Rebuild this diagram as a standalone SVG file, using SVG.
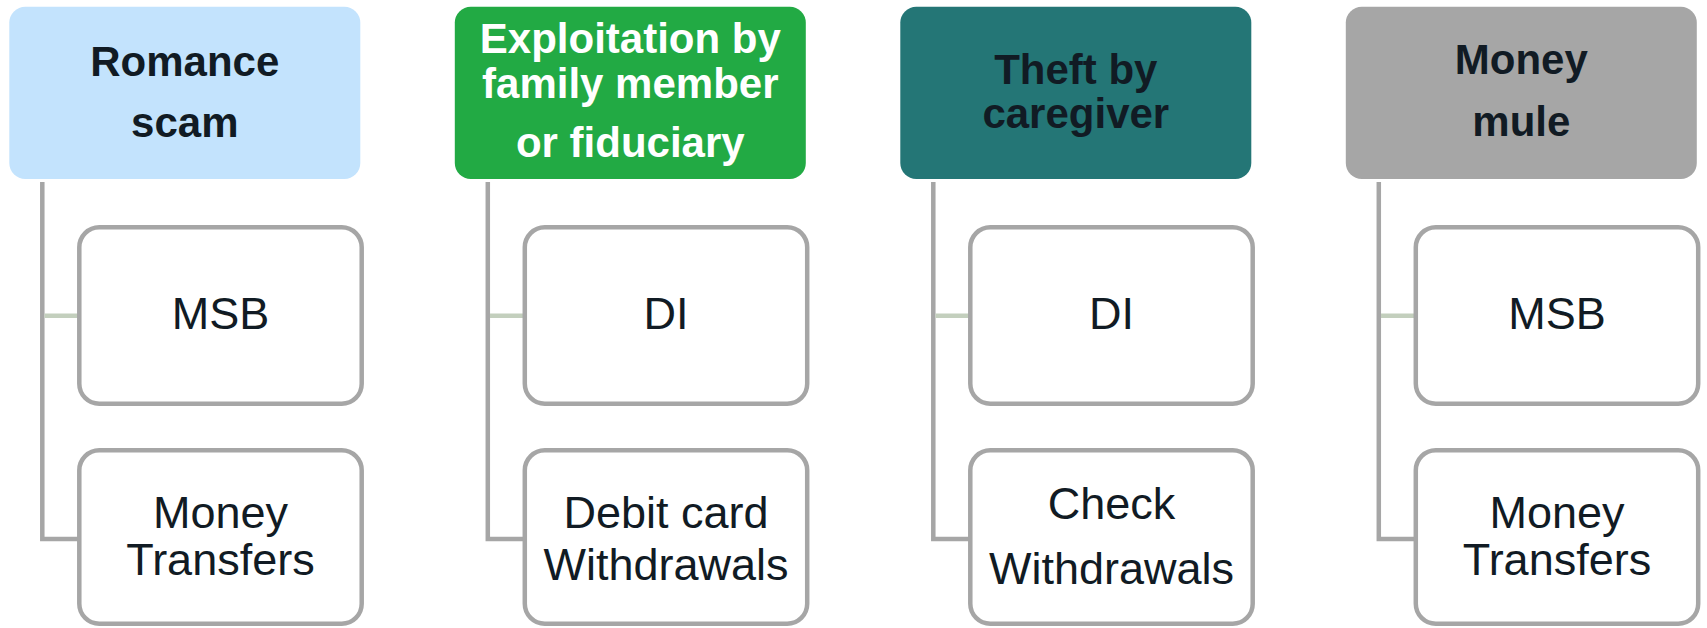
<svg xmlns="http://www.w3.org/2000/svg" width="1707" height="628" viewBox="0 0 1707 628">
<style>
.h{font-family:"Liberation Sans",Arial,sans-serif;font-weight:bold;font-size:42px;text-anchor:middle;fill:#111B24}
.w{fill:#FFFFFF}
.c{font-family:"Liberation Sans",Arial,sans-serif;font-size:45px;text-anchor:middle;fill:#111B24}
.box{fill:#FFFFFF;stroke:#A6A6A6;stroke-width:4.5}
.ln{fill:none;stroke:#A6A6A6;stroke-width:4.5}
.lg{fill:none;stroke:#C3CFBD;stroke-width:4.5}
</style>
<rect width="1707" height="628" fill="#FFFFFF"/>
<g id="connectors">
<path class="ln" d="M42.3,182 V539 H79"/>
<path class="lg" d="M44.5,315.7 H79"/>
<path class="ln" d="M487.8,182 V539 H524.5"/>
<path class="lg" d="M490,315.7 H524.5"/>
<path class="ln" d="M933.3,182 V539 H970"/>
<path class="lg" d="M935.5,315.7 H970"/>
<path class="ln" d="M1378.8,182 V539 H1415.5"/>
<path class="lg" d="M1381,315.7 H1415.5"/>
</g>
<g id="h1"><rect x="9.3" y="6.7" width="351" height="172.3" rx="16" fill="#C3E3FD"/>
<text class="h" x="184.8" y="76">Romance</text><text class="h" x="184.8" y="137">scam</text></g>
<g id="h2"><rect x="454.8" y="6.7" width="351" height="172.3" rx="16" fill="#22AA44"/>
<text class="h w" x="630.3" y="53">Exploitation by</text><text class="h w" x="630.3" y="98">family member</text><text class="h w" x="630.3" y="157">or fiduciary</text></g>
<g id="h3"><rect x="900.3" y="6.7" width="351" height="172.3" rx="16" fill="#247676"/>
<text class="h" x="1075.8" y="84">Theft by</text><text class="h" x="1075.8" y="128">caregiver</text></g>
<g id="h4"><rect x="1345.8" y="6.7" width="351" height="172.3" rx="16" fill="#A6A6A6"/>
<text class="h" x="1521.3" y="74">Money</text><text class="h" x="1521.3" y="136">mule</text></g>
<g id="c1a"><rect class="box" x="79.3" y="227.3" width="282.4" height="176.4" rx="20"/><text class="c" x="220.5" y="329">MSB</text></g>
<g id="c1b"><rect class="box" x="79.3" y="450.3" width="282.4" height="173.4" rx="20"/><text class="c" x="220.5" y="528">Money</text><text class="c" x="220.5" y="575">Transfers</text></g>
<g id="c2a"><rect class="box" x="524.8" y="227.3" width="282.4" height="176.4" rx="20"/><text class="c" x="666" y="329">DI</text></g>
<g id="c2b"><rect class="box" x="524.8" y="450.3" width="282.4" height="173.4" rx="20"/><text class="c" x="666" y="528">Debit card</text><text class="c" x="666" y="580">Withdrawals</text></g>
<g id="c3a"><rect class="box" x="970.3" y="227.3" width="282.4" height="176.4" rx="20"/><text class="c" x="1111.5" y="329">DI</text></g>
<g id="c3b"><rect class="box" x="970.3" y="450.3" width="282.4" height="173.4" rx="20"/><text class="c" x="1111.5" y="519">Check</text><text class="c" x="1111.5" y="584">Withdrawals</text></g>
<g id="c4a"><rect class="box" x="1415.8" y="227.3" width="282.4" height="176.4" rx="20"/><text class="c" x="1557" y="329">MSB</text></g>
<g id="c4b"><rect class="box" x="1415.8" y="450.3" width="282.4" height="173.4" rx="20"/><text class="c" x="1557" y="528">Money</text><text class="c" x="1557" y="575">Transfers</text></g>
</svg>
